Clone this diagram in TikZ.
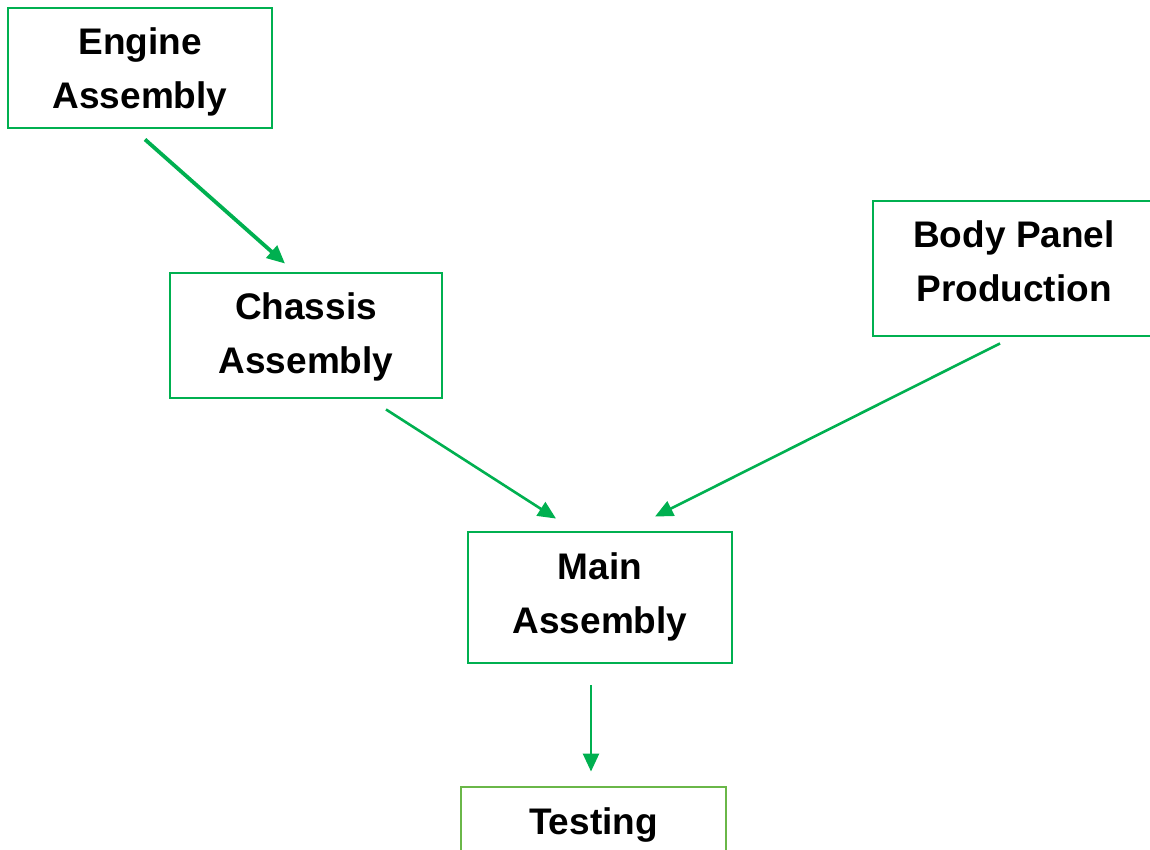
\documentclass[tikz,border=0pt]{standalone}
\usepackage{fontspec}
\setmainfont{Liberation Sans}
\usetikzlibrary{arrows.meta,calc}
\definecolor{flowgreen}{RGB}{0,176,80}
\definecolor{testgreen}{RGB}{106,183,72}
\begin{document}
\begin{tikzpicture}[x=1pt,y=-1pt,
  stage/.style={draw=flowgreen, line width=2.9pt, fill=white, inner sep=0pt},
  caption/.style={align=center, inner sep=0pt,
    font=\fontsize{37}{54}\selectfont\bfseries},
  flow/.style={draw=flowgreen, line width=2.6pt,
    -{Triangle[length=18pt,width=16pt]}},
  flowthick/.style={flow, line width=3.8pt}]
  \useasboundingbox (0,0) rectangle (1150,850);

  % process stage boxes
  \node[stage, minimum width=264pt, minimum height=120pt] (engine) at (140,68) {};
  \node[stage, minimum width=272pt, minimum height=125pt] (chassis) at (306,335.5) {};
  \node[stage, minimum width=282pt, minimum height=135pt] (body) at (1014,268.5) {};
  \node[stage, minimum width=264pt, minimum height=131pt] (main) at (600,597.5) {};
  \node[stage, draw=testgreen, minimum width=265pt, minimum height=130pt] (testing) at (593.5,852) {};

  % stage names
  \node[caption] (enginetxt) at ($(engine.center)+(0,4)$) {Engine\\Assembly};
  \node[caption] (chassistxt) at ($(chassis.center)+(0,1)$) {Chassis\\Assembly};
  \node[caption] (bodytxt) at ($(body.center)+(0,-7)$) {Body Panel\\Production};
  \node[caption] (maintxt) at ($(main.center)+(0,-1)$) {Main\\Assembly};
  \node[caption, anchor=base] (testingtxt) at (593.5,834) {Testing};

  % connector end points
  \coordinate (e1) at ($(engine.south)+(5,10)$);
  \coordinate (e2) at ($(chassis.north)+(-21,-8)$);
  \coordinate (c1) at ($(chassis.south)+(80,10)$);
  \coordinate (c2) at ($(main.north)+(-44,-12)$);
  \coordinate (b1) at ($(body.south)+(-14,6)$);
  \coordinate (b2) at ($(main.north)+(55,-14)$);
  \coordinate (m1) at ($(main.south)+(-9,21)$);
  \coordinate (m2) at ($(testing.north)+(-2.5,-14)$);

  % flows between stages
  \draw[flowthick] (e1) -- (e2);
  \draw[flow] (c1) -- (c2);
  \draw[flow] (b1) -- (b2);
  \draw[flow] (m1) -- (m2);
\end{tikzpicture}
\end{document}
